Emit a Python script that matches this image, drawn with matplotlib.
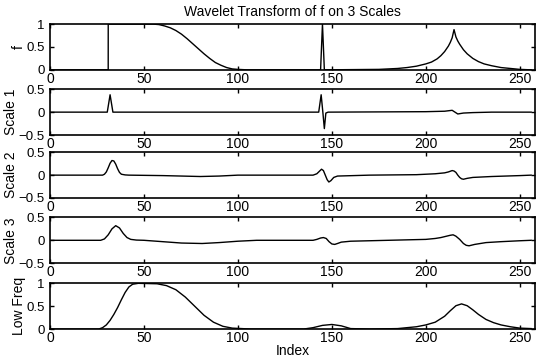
import matplotlib
matplotlib.use("Agg")
import matplotlib.pyplot as plt

plt.rcParams['font.family'] = ['Liberation Sans', 'DejaVu Sans']

# ---- data (index, value) ----
f_x = [0, 31, 31.01, 55, 58, 61, 64, 67, 70, 73, 76, 79, 82, 85, 88, 91, 94, 97, 100, 105, 144, 145, 146,
       175, 180, 185, 190, 195, 200, 203, 206, 208, 210, 212, 213, 214, 215, 216, 217, 218, 220, 222, 225,
       228, 231, 235, 240, 245, 250, 256]
f_y = [0, 0, 1, 1, 0.99, 0.96, 0.92, 0.86, 0.78, 0.68, 0.57, 0.46, 0.35, 0.25, 0.16, 0.1, 0.05, 0.02, 0.01, 0,
       0, 1, 0, 0.01, 0.02, 0.03, 0.05, 0.08, 0.13, 0.17, 0.24, 0.31, 0.4, 0.52, 0.6, 0.7, 0.88, 0.72, 0.63,
       0.56, 0.44, 0.35, 0.25, 0.18, 0.13, 0.09, 0.05, 0.03, 0.01, 0]

s1_x = [0, 30.5, 32, 33.5, 143, 144.3, 145.2, 146, 146.8, 148, 200, 210, 214, 217, 220, 225, 235, 256]
s1_y = [0, 0, 0.38, 0, 0, 0.38, 0.0, -0.36, -0.02, 0, 0.01, 0.02, 0.04, -0.04, -0.02, -0.01, 0, 0]

s2_x = [0, 28, 29, 30, 31, 32, 33, 34, 35, 36, 37, 38, 40, 42, 60, 70, 80, 90, 100, 140, 142, 143, 144.5,
        145.5, 146.5, 147.5, 148.4, 149.5, 151, 153, 170, 195, 205, 210, 212, 214, 215, 216, 217, 218, 219,
        220, 222, 225, 235, 250, 256]
s2_y = [0, 0, 0.02, 0.07, 0.16, 0.26, 0.32, 0.31, 0.24, 0.14, 0.06, 0.02, 0.005, 0, -0.01, -0.02, -0.03, -0.02,
        0, 0, 0.03, 0.07, 0.13, 0.1, 0.0, -0.1, -0.15, -0.12, -0.05, -0.02, 0, 0.01, 0.03, 0.05, 0.07, 0.1,
        0.09, 0.06, 0.0, -0.05, -0.08, -0.09, -0.07, -0.05, -0.03, -0.01, 0]

s3_x = [0, 27, 29, 31, 33, 35, 37, 39, 41, 43, 46, 50, 60, 70, 81, 90, 100, 110, 140, 142, 144, 145.5, 147,
        148.5, 150, 151.5, 153, 155, 160, 180, 200, 205, 208, 211, 213, 214.5, 216, 218, 220, 221.5, 223,
        226, 232, 240, 250, 256]
s3_y = [0, 0, 0.03, 0.12, 0.25, 0.32, 0.27, 0.15, 0.06, 0.02, 0.005, 0, -0.03, -0.06, -0.07, -0.05, -0.02, 0,
        0, 0.02, 0.05, 0.06, 0.04, -0.03, -0.08, -0.09, -0.07, -0.04, -0.02, 0, 0.02, 0.04, 0.06, 0.09, 0.11,
        0.12, 0.09, 0.02, -0.07, -0.11, -0.12, -0.09, -0.05, -0.03, -0.01, 0]

lf_x = [0, 26, 28, 30, 32, 34, 36, 38, 40, 42, 44, 47, 57, 62, 67, 72, 77, 82, 87, 92, 97, 102, 107, 135, 140,
        145, 150, 155, 160, 170, 185, 195, 200, 205, 210, 213, 216, 219, 222, 225, 228, 232, 236, 240, 245,
        250, 256]
lf_y = [0, 0, 0.03, 0.09, 0.19, 0.32, 0.47, 0.64, 0.8, 0.92, 0.98, 1, 0.99, 0.95, 0.86, 0.7, 0.5, 0.3, 0.15,
        0.06, 0.02, 0.01, 0, 0, 0.03, 0.08, 0.1, 0.07, 0.01, 0, 0.01, 0.05, 0.09, 0.15, 0.28, 0.4, 0.51, 0.55,
        0.51, 0.42, 0.32, 0.21, 0.14, 0.09, 0.05, 0.02, 0.01]

series = [(f_x, f_y, 'f', (0, 1), [0, 0.5, 1]),
          (s1_x, s1_y, 'Scale 1', (-0.5, 0.5), [-0.5, 0, 0.5]),
          (s2_x, s2_y, 'Scale 2', (-0.5, 0.5), [-0.5, 0, 0.5]),
          (s3_x, s3_y, 'Scale 3', (-0.5, 0.5), [-0.5, 0, 0.5]),
          (lf_x, lf_y, 'Low Freq', (0, 1), [0, 0.5, 1])]
xticks = [0, 50, 100, 150, 200, 250]
ytick_labels = {0: '0', 0.5: '0.5', 1: '1', -0.5: '-0.5'}

fig = plt.figure(figsize=(5.37, 3.6), dpi=100)
bottoms = [0.806, 0.625, 0.45, 0.269, 0.086]
left, width, height = 0.093, 0.903, 0.127

for i, (xs, ys, lab, ylim, yt) in enumerate(series):
    ax = fig.add_axes([left, bottoms[i], width, height])
    ax.plot(xs, ys, color='black', lw=1.0)
    ax.set_xlim(0, 258)
    ax.set_ylim(*ylim)
    ax.set_xticks(xticks)
    ax.set_yticks(yt)
    ax.set_yticklabels([ytick_labels[v].replace('-', '\u2212') for v in yt])
    ax.tick_params(direction='in', top=True, right=True, labelsize=10, length=3, width=1)
    ax.tick_params(axis='x', pad=1.5)
    ax.tick_params(axis='y', pad=4, labelsize=9.5)
    ax.set_ylabel(lab, fontsize=10, labelpad=0)
    for s in ax.spines.values():
        s.set_linewidth(1.2)
    if i == 0:
        ax.set_title('Wavelet Transform of f on 3 Scales', fontsize=10, pad=6)
    if i == 4:
        ax.set_xlabel('Index', fontsize=10, labelpad=-1)

fig.savefig('out.png', dpi=100)
